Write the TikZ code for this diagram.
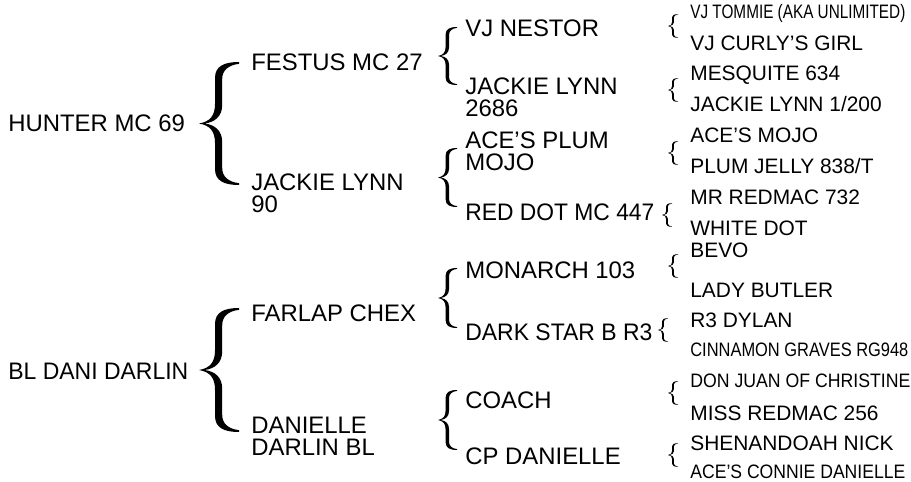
\documentclass[tikz,border=0pt]{standalone}
\usepackage{fontspec}
\usepackage{graphicx}
\setmainfont{Liberation Sans}

\newlength{\pxu}
\setlength{\pxu}{0.02cm}
% curly brace: #1 tip x, #2 middle y, #3 width, #4 half height (px)
\newcommand{\curly}[4]{%
  \fill[shift={(#1,#2)}, xscale=#3, yscale=#4]
    (0,0) .. controls (0.28,0.03) and (0.40,0.13) .. (0.40,0.32)
    -- (0.40,0.74) .. controls (0.40,0.93) and (0.62,1) .. (1,1)
    -- (1,0.97) .. controls (0.74,0.95) and (0.58,0.87) .. (0.58,0.72)
    -- (0.58,0.30) .. controls (0.58,0.12) and (0.40,0.02) .. (0.14,0)
    .. controls (0.40,-0.02) and (0.58,-0.12) .. (0.58,-0.30)
    -- (0.58,-0.72) .. controls (0.58,-0.87) and (0.74,-0.95) .. (1,-0.97)
    -- (1,-1) .. controls (0.62,-1) and (0.40,-0.93) .. (0.40,-0.74)
    -- (0.40,-0.32) .. controls (0.40,-0.13) and (0.28,-0.03) .. (0,0) -- cycle;}
\newcommand{\narrow}[2]{\resizebox{#1\pxu}{0.93\height}{#2}}
\newcommand{\fitw}[2]{\resizebox{#1\pxu}{\height}{#2}}

\begin{document}
\begin{tikzpicture}[x=0.02cm, y=-0.02cm,
    horse/.style={anchor=north west, inner sep=0pt, align=left, font=\fontsize{13.6}{12.5}\selectfont},
    grand/.style={anchor=north west, inner sep=0pt, font=\fontsize{11.9}{12}\selectfont}]
    \useasboundingbox (0,0) rectangle (911,482);

    % 1st generation
    \node[horse] (hunter) at (8, 114.4) {HUNTER MC 69};
    \node[horse] (dani) at (8, 362.4) {\fitw{180}{BL DANI DARLIN}};
    \curly{199}{123.5}{40}{61.5}
    \curly{199}{370}{40}{62}

    % 2nd generation
    \node[horse] (festus) at (251, 53.4) {FESTUS MC 27};
    \node[horse] (jackie90) at (251, 173.4) {JACKIE LYNN\\90};
    \node[horse] (farlap) at (251, 304.4) {FARLAP CHEX};
    \node[horse] (danielle) at (251, 416.4) {DANIELLE\\DARLIN BL};
    \curly{438}{56}{19}{29}
    \curly{438}{177.5}{19}{29.5}
    \curly{438}{298}{19}{30}
    \curly{438}{420}{19}{30}

    % 3rd generation
    \node[horse] (nestor) at (465, 19.4) {VJ NESTOR};
    \node[horse] (jackie2686) at (465, 77.4) {JACKIE LYNN\\2686};
    \node[horse] (plum) at (465, 131.4) {ACE’S PLUM\\MOJO};
    \node[horse] (reddot) at (465, 203.4) {\fitw{189}{RED DOT MC 447}};
    \node[horse] (monarch) at (465, 261.4) {MONARCH 103};
    \node[horse] (darkstar) at (465, 323.4) {\fitw{187}{DARK STAR B R3}};
    \node[horse] (coach) at (465, 391.4) {COACH};
    \node[horse] (cpdanielle) at (465, 447.4) {CP DANIELLE};
    \curly{668}{26}{10}{11.75}
    \curly{668}{90}{10}{11.75}
    \curly{668}{153}{10}{11.75}
    \curly{662}{215}{10}{11.75}
    \curly{658}{330}{10}{11.75}
    \curly{668}{266}{10}{11.75}
    \curly{668}{393}{10}{11.75}
    \curly{668}{455}{10}{11.75}

    % 4th generation
    \node[grand] (tommie) at (690, 4.5) {\narrow{215}{VJ TOMMIE (AKA UNLIMITED)}};
    \node[grand] (curly) at (690, 35.5) {VJ CURLY’S GIRL};
    \node[grand] (mesquite) at (690, 65.5) {MESQUITE 634};
    \node[grand] (jackie1200) at (690, 96.5) {JACKIE LYNN 1/200};
    \node[grand] (mojo) at (690, 127.5) {ACE’S MOJO};
    \node[grand] (jelly) at (690, 158.5) {PLUM JELLY 838/T};
    \node[grand] (redmac) at (690, 189.5) {MR REDMAC 732};
    \node[grand] (whitedot) at (690, 220.5) {WHITE DOT};
    \node[grand] (bevo) at (690, 243) {BEVO};
    \node[grand] (butler) at (690, 282.5) {LADY BUTLER};
    \node[grand] (dylan) at (690, 312.5) {R3 DYLAN};
    \node[grand] (cinnamon) at (690, 343) {\narrow{218}{CINNAMON GRAVES RG948}};
    \node[grand] (donjuan) at (690, 373.5) {\narrow{220}{DON JUAN OF CHRISTINE}};
    \node[grand] (missredmac) at (690, 405.5) {MISS REDMAC 256};
    \node[grand] (shenandoah) at (690, 435.5) {SHENANDOAH NICK};
    \node[grand] (connie) at (690, 465) {\narrow{215}{ACE’S CONNIE DANIELLE}};
\end{tikzpicture}
\end{document}
